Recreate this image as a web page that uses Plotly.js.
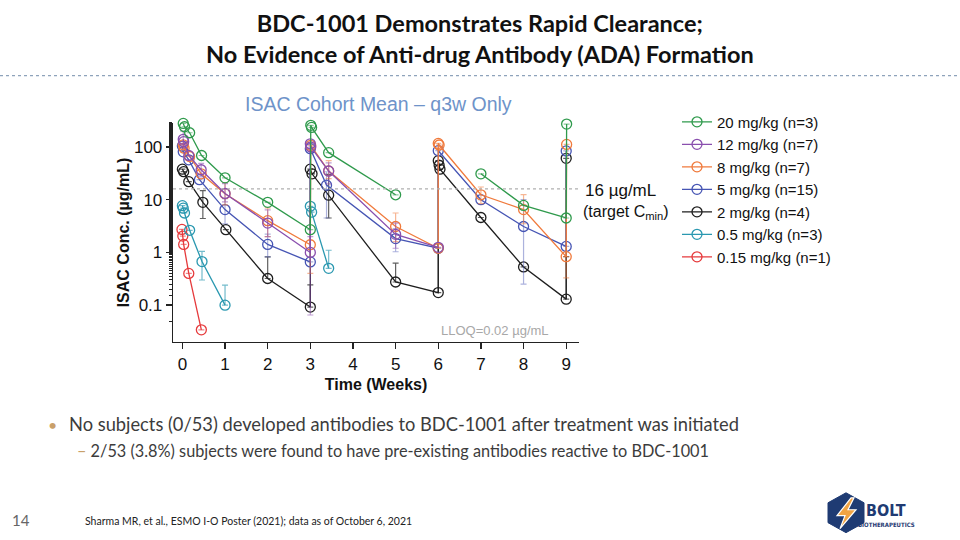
<!DOCTYPE html>
<html><head><meta charset="utf-8">
<script src="https://cdn.plot.ly/plotly-3.0.1.min.js"></script>
<style>html,body{margin:0;padding:0;background:#fff;}#chart{width:960px;height:540px;}</style>
</head><body><div id="chart"></div>
<script>
// ---- data ----
const seriesNames = ["20 mg/kg (n=3)","12 mg/kg (n=7)","8 mg/kg (n=7)","5 mg/kg (n=15)","2 mg/kg (n=4)","0.5 mg/kg (n=3)","0.15 mg/kg (n=1)"];
const seriesColors = ["#2f9a4c","#8a4fae","#f07a3c","#4655b4","#1e1e1e","#2a98b0","#e63a3c"];
const errColors = ["rgba(47,154,76,0.55)","rgba(138,79,174,0.55)","rgba(240,122,60,0.55)","rgba(70,85,180,0.45)","rgba(30,30,30,0.7)","rgba(42,152,176,0.65)","rgba(230,58,60,0.6)"];

const t20 = [0.02,0.05,0.17,0.45,1,2,3,3.01,3.03,3.43,5,6,7,8,9,9.01];
const v20 = [280,242,186,69,26,8.9,2.7,257,235,78,12.4,null,31,7.8,4.5,272];
const e20up = [null,null,null,null,null,null,null,null,null,null,null,null,null,null,null,null];
const e20dn = [null,null,null,null,null,null,null,null,null,null,null,null,null,null,null,null];

const t12 = [0.02,0.03,0.15,0.44,1,2,3,3.0,3.01,3.43,5,6];
const v12 = [140,126,69,37,13.1,3.6,1.0,115,100,35,2.2,1.25];
const e12up = [60,null,null,12,7,2.8,1.0,null,null,15,1.4,null];
const e12dn = [45,null,null,10,4,1.6,0.935,null,null,15,1.0,null];

const t8 = [0.02,0.04,0.17,0.44,1,2,3,3.01,3.43,5,6,6.0,6.02,7,8,9,9.01];
const v8 = [110,95,66,31,13,4.0,1.4,107,35,3.1,1.2,117,109,12.4,6.5,0.83,112];
const e8up = [null,null,null,null,8,3,0.3,null,20,2.5,null,null,null,5,6,null,null];
const e8dn = [null,null,null,null,5,2,1.0,null,10,1.5,null,null,null,4,3,0.5,null];

const t5 = [0.0,0.02,0.15,0.4,1,2,3,3.0,3.38,5,6,6.0,7,8,9,9.0];
const v5 = [104,81,57,24,6.5,1.42,0.66,93,18.9,1.83,1.2,85,10,3.1,1.3,84];
const e5up = [null,null,null,null,4,0.8,null,null,15,1,null,null,null,7,null,null];
const e5dn = [null,null,null,null,3,0.6,null,null,14.4,0.8,null,null,null,2.85,null,null];

const t2 = [0.0,0.03,0.15,0.48,1.02,2,3,3.0,3.04,3.43,5,6,6.0,6.02,6.04,7,8,9,9.0];
const v2 = [38,34,22,8.9,2.7,0.32,0.092,38,31,12.2,0.275,0.173,55,45,38,4.6,0.53,0.13,61];
const e2up = [null,null,null,6,null,0.5,0.15,null,null,18,0.35,1.3,null,null,null,null,null,0.7,null];
const e2dn = [null,null,null,4.5,null,null,null,null,null,7.7,null,null,null,null,null,null,null,null,null];

const t05 = [0.0,0.02,0.05,0.17,0.46,1,2,3,3.03,3.43];
const v05 = [7.7,6.9,5.6,2.63,0.67,0.10,null,7.5,5.8,0.5];
const e05up = [null,null,null,null,0.38,0.14,null,null,null,0.6];
const e05dn = [null,null,null,null,0.37,null,null,null,null,null];

const t015 = [-0.01,0.01,0.03,0.15,0.445];
const v015 = [2.73,2.04,1.42,0.40,0.034];
const e015up = [null,null,null,null,null];
const e015dn = [null,null,null,null,null];

const tickVals = [0.1,1,10,100];
const tickText = ["0.1","1","10","100"];
const xTicks = [0,1,2,3,4,5,6,7,8,9];
const targetCmin = 16;

// ---- build traces ----
const T = [t20,t12,t8,t5,t2,t05,t015];
const V = [v20,v12,v8,v5,v2,v05,v015];
const EU = [e20up,e12up,e8up,e5up,e2up,e05up,e015up];
const ED = [e20dn,e12dn,e8dn,e5dn,e2dn,e05dn,e015dn];
const FONT = "Liberation Sans, Arial, sans-serif";

const traces = [];
for (let i = T.length - 1; i >= 0; i--) {
  traces.push({
    type: "scatter", mode: "lines+markers",
    x: T[i], y: V[i], name: seriesNames[i],
    line: {color: seriesColors[i], width: 1.3},
    marker: {symbol: "circle-open", size: 10, color: seriesColors[i], line: {width: 1.3, color: seriesColors[i]}},
    error_y: {type: "data", symmetric: false, array: EU[i], arrayminus: ED[i], color: errColors[i], thickness: 1.2, width: 3},
    legendrank: i + 1,
    connectgaps: false,
    cliponaxis: false,
    hoverinfo: "skip"
  });
}
traces.push({
  type: "scatter", mode: "lines", x: [-0.22, 9.3], y: [targetCmin, targetCmin],
  line: {color: "#b0b0b0", width: 1.3, dash: "dot"}, showlegend: false, hoverinfo: "skip"
});

// pixel -> paper helpers (plot area: x 173..579, y 122.5..342.5)
const L = 173, R = 579, TOP = 122.5, BOT = 342.5;
const px = x => (x - L) / (R - L);
const py = y => (BOT - y) / (BOT - TOP);

const hex = [[846,494],[864,504],[864,524],[846,534],[828,524],[828,504]];
const hexPath = "M" + hex.map(p => px(p[0]) + "," + py(p[1])).join(" L") + " Z";
const bolt = [[851,499],[837,517],[845,517],[840,530],[856,511],[848,511],[854,499]];
const boltPath = "M" + bolt.map(p => px(p[0]) + "," + py(p[1])).join(" L") + " Z";

const layout = {
  width: 960, height: 540,
  margin: {l: L, r: 960 - R, t: TOP, b: 540 - BOT},
  paper_bgcolor: "#ffffff", plot_bgcolor: "rgba(0,0,0,0)",
  showlegend: true,
  legend: {
    x: px(677), xanchor: "left", y: py(105), yanchor: "top",
    font: {family: FONT, size: 15, color: "#111"},
    bgcolor: "rgba(0,0,0,0)", borderwidth: 0, itemwidth: 30, traceorder: "normal"
  },
  xaxis: {
    type: "linear", range: [-0.22, 9.3], tickvals: xTicks, ticktext: xTicks.map(String),
    showgrid: false, zeroline: false, showline: true, linecolor: "#222", linewidth: 1.3,
    ticks: "outside", ticklen: 6, tickwidth: 1.3, tickcolor: "#222",
    tickfont: {family: FONT, size: 17, color: "#111"},
    title: {text: "<b>Time (Weeks)</b>", font: {family: FONT, size: 16, color: "#111"}, standoff: 6}
  },
  yaxis: {
    type: "log", range: [Math.log10(0.02), Math.log10(285)], tickvals: tickVals, ticktext: tickText,
    showgrid: false, zeroline: false, showline: true, linecolor: "#222", linewidth: 1.3,
    ticks: "outside", ticklen: 6, tickwidth: 1.3, tickcolor: "#222",
    minor: {ticks: "outside", ticklen: 3, tickwidth: 1, tickcolor: "#222", showgrid: false},
    tickfont: {family: FONT, size: 17, color: "#111"},
    title: {text: "<b>ISAC Conc. (µg/mL)</b>", font: {family: FONT, size: 16, color: "#111"}, standoff: 0}
  },
  shapes: [
    {type: "line", xref: "paper", yref: "paper", x0: px(0), x1: px(960), y0: py(75), y1: py(75),
     line: {color: "#8ea3bb", width: 1.2, dash: "dot"}},
    {type: "path", xref: "paper", yref: "paper", path: hexPath, fillcolor: "#1f3b73", line: {color: "#1f3b73", width: 1}},
    {type: "path", xref: "paper", yref: "paper", path: boltPath, fillcolor: "#f2a444", line: {color: "#ffffff", width: 1.2}}
  ],
  annotations: [
    {xref: "paper", yref: "paper", x: px(480), y: py(38), xanchor: "center", yanchor: "middle", showarrow: false,
     text: "<b>BDC-1001 Demonstrates Rapid Clearance;<br>No Evidence of Anti-drug Antibody (ADA) Formation</b>",
     font: {family: "Lato, Open Sans, sans-serif", size: 23.5, color: "#111"}},
    {xref: "paper", yref: "paper", x: px(378), y: py(103), xanchor: "center", yanchor: "middle", showarrow: false,
     text: "ISAC Cohort Mean – q3w Only", font: {family: FONT, size: 19.5, color: "#6e93c9"}},
    {xref: "paper", yref: "paper", x: px(583), y: py(190), xanchor: "left", yanchor: "middle", showarrow: false,
     text: "16 µg/mL", font: {family: FONT, size: 17, color: "#111"}},
    {xref: "paper", yref: "paper", x: px(581), y: py(212), xanchor: "left", yanchor: "middle", showarrow: false,
     text: "(target C<sub>min</sub>)", font: {family: FONT, size: 16, color: "#111"}},
    {xref: "paper", yref: "paper", x: px(495), y: py(331), xanchor: "center", yanchor: "middle", showarrow: false,
     text: "LLOQ=0.02 µg/mL", font: {family: FONT, size: 13, color: "#a8a8a8"}},
    {xref: "paper", yref: "paper", x: px(46), y: py(425), xanchor: "left", yanchor: "middle", showarrow: false,
     text: "•", font: {family: "Lato, sans-serif", size: 16, color: "#c9a06a"}},
    {xref: "paper", yref: "paper", x: px(67), y: py(425), xanchor: "left", yanchor: "middle", showarrow: false,
     text: "No subjects (0/53) developed antibodies to BDC-1001 after treatment was initiated",
     font: {family: "Lato, sans-serif", size: 18.3, color: "#3c3c3c"}},
    {xref: "paper", yref: "paper", x: px(75), y: py(451), xanchor: "left", yanchor: "middle", showarrow: false,
     text: "<span style='color:#c9a06a'>–</span> 2/53 (3.8%) subjects were found to have pre-existing antibodies reactive to BDC-1001",
     font: {family: "Lato, sans-serif", size: 16.3, color: "#3c3c3c"}},
    {xref: "paper", yref: "paper", x: px(10), y: py(521), xanchor: "left", yanchor: "middle", showarrow: false,
     text: "14", font: {family: "Lato, sans-serif", size: 15, color: "#666"}},
    {xref: "paper", yref: "paper", x: px(83), y: py(522), xanchor: "left", yanchor: "middle", showarrow: false,
     text: "Sharma MR, et al., ESMO I-O Poster (2021); data as of October 6, 2021",
     font: {family: "Lato, sans-serif", size: 10.5, color: "#222"}},
    {xref: "paper", yref: "paper", x: px(886), y: py(512), xanchor: "center", yanchor: "middle", showarrow: false,
     text: "<b>BOLT</b>", font: {family: "DejaVu Sans Condensed, Liberation Sans Narrow, Liberation Sans, sans-serif", size: 16, color: "#1f3b73"}},
    {xref: "paper", yref: "paper", x: px(886), y: py(526), xanchor: "center", yanchor: "middle", showarrow: false,
     text: "<b>BIOTHERAPEUTICS</b>", font: {family: "DejaVu Sans Condensed, Liberation Sans Narrow, Liberation Sans, sans-serif", size: 6, color: "#1f3b73"}}
  ]
};

Plotly.newPlot("chart", traces, layout, {staticPlot: true, displayModeBar: false});
</script>
</body></html>
